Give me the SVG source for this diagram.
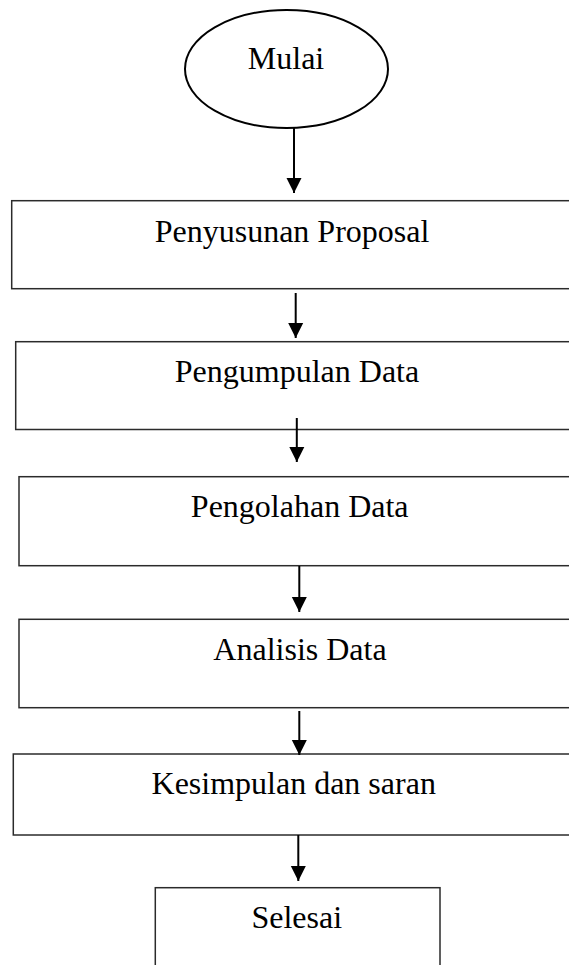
<svg xmlns="http://www.w3.org/2000/svg" width="569" height="965" viewBox="0 0 569 965">
<style>
.box{fill:#ffffff;stroke:#2b2b2b;stroke-width:1.5}
.ell{fill:#ffffff;stroke:#000;stroke-width:2}
.lbl{font-family:"Liberation Serif","Times New Roman",serif;font-size:32px;fill:#000;text-anchor:middle}
.arr{stroke:#000;stroke-width:2;fill:none}
</style>
<defs>
<marker id="ah" markerUnits="userSpaceOnUse" markerWidth="16" markerHeight="16" viewBox="0 0 16 16" refX="15" refY="8" orient="auto">
<path d="M0,0.5 L15,8 L0,15.5 Z" fill="#000"/>
</marker>
</defs>
<rect width="569" height="965" fill="#fff"/>
<g id="mulai">
<ellipse class="ell" cx="286.5" cy="69" rx="101.5" ry="59"/>
<text class="lbl" x="286" y="69">Mulai</text>
</g>
<g id="penyusunan">
<rect class="box" x="11.7" y="200.7" width="570" height="88"/>
<text class="lbl" x="292" y="241.7">Penyusunan Proposal</text>
</g>
<g id="pengumpulan">
<rect class="box" x="15.7" y="341.7" width="570" height="87.8"/>
<text class="lbl" x="297" y="381.7">Pengumpulan Data</text>
</g>
<g id="pengolahan">
<rect class="box" x="19" y="476.7" width="570" height="89"/>
<text class="lbl" x="299.7" y="517.3">Pengolahan Data</text>
</g>
<g id="analisis">
<rect class="box" x="19" y="619.3" width="570" height="88.4"/>
<text class="lbl" x="300" y="660">Analisis Data</text>
</g>
<g id="kesimpulan">
<rect class="box" x="13.3" y="754" width="570" height="81"/>
<text class="lbl" x="293.7" y="794">Kesimpulan dan saran</text>
</g>
<g id="selesai">
<rect class="box" x="155.3" y="887.7" width="284.7" height="100"/>
<text class="lbl" x="296.8" y="928.3">Selesai</text>
</g>
<g id="connectors">
<line class="arr" x1="294" y1="128" x2="294" y2="193" marker-end="url(#ah)"/>
<line class="arr" x1="295.7" y1="293" x2="295.7" y2="338" marker-end="url(#ah)"/>
<line class="arr" x1="296.8" y1="418" x2="296.8" y2="462" marker-end="url(#ah)"/>
<line class="arr" x1="299.3" y1="566" x2="299.3" y2="612" marker-end="url(#ah)"/>
<line class="arr" x1="299.3" y1="711" x2="299.3" y2="755" marker-end="url(#ah)"/>
<line class="arr" x1="298.3" y1="835" x2="298.3" y2="881" marker-end="url(#ah)"/>
</g>
</svg>
